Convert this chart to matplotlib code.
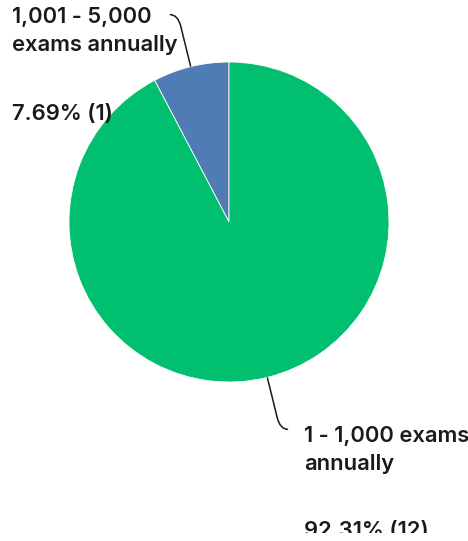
import numpy as np
import matplotlib
matplotlib.use("Agg")
import matplotlib.pyplot as plt
from matplotlib.path import Path
from matplotlib.patches import PathPatch, Rectangle

# answer options (in drawing order, starting at 12 o'clock, counterclockwise)
categories = ["1,001 - 5,000\nexams annually", "1 - 1,000 exams\nannually"]
counts = [1, 12]
colors = ["#507CB6", "#00BF6F"]

W, H = 468, 541
fig = plt.figure(figsize=(W / 100, H / 100), dpi=100)

# pie area in pixels: centre (229, 222), radius 160
cx, cy, r = 229, 222, 160
ax = fig.add_axes([(cx - r) / W, (H - cy - r) / H, 2 * r / W, 2 * r / H])
wedges, _ = ax.pie(counts, colors=colors, startangle=90, counterclock=True,
                   radius=1, wedgeprops=dict(edgecolor="white", linewidth=0.6))
ax.set_xlim(-1, 1)
ax.set_ylim(-1, 1)
ax.set_aspect("equal")
ax.axis("off")

total = sum(counts)
font = dict(family=["Inter", "DejaVu Sans"], fontsize=15.8, weight="semibold", color="#1a1a1a")

# leader lines: radial out from wedge middle, then a small hook towards the label
hook = [-1, 1]
for w, d in zip(wedges, hook):
    a = np.deg2rad((w.theta1 + w.theta2) / 2)
    u = np.array([np.cos(a), np.sin(a)])
    p0 = u * 1.0
    p1 = u * 1.26
    ctrl = u * 1.335
    end = ctrl + np.array([d * 0.05, 0])
    path = Path([p0, p1, ctrl, end],
                [Path.MOVETO, Path.LINETO, Path.CURVE3, Path.CURVE3])
    ax.add_patch(PathPatch(path, fill=False, edgecolor="#1a1a1a", lw=1.1, clip_on=False))

# labels (figure pixel positions of the text blocks)
name_pos = [(12, 7), (304, 426)]
pct_pos = [(12, 104), (304, 521)]

# the bottom label is cut off in the original
clip = Rectangle((0, 8 / H), 1, 1 - 8 / H, transform=fig.transFigure,
                 facecolor="none", edgecolor="none")
fig.add_artist(clip)

for i, (name, n) in enumerate(zip(categories, counts)):
    x, y = name_pos[i]
    fig.text(x / W, 1 - y / H, name, ha="left", va="top", linespacing=1.52, **font)
    x, y = pct_pos[i]
    t = fig.text(x / W, 1 - y / H, f"{100 * n / total:.2f}% ({n})", ha="left", va="top", **font)
    t.set_clip_path(clip)

fig.savefig("out.png", dpi=100, facecolor="white")
